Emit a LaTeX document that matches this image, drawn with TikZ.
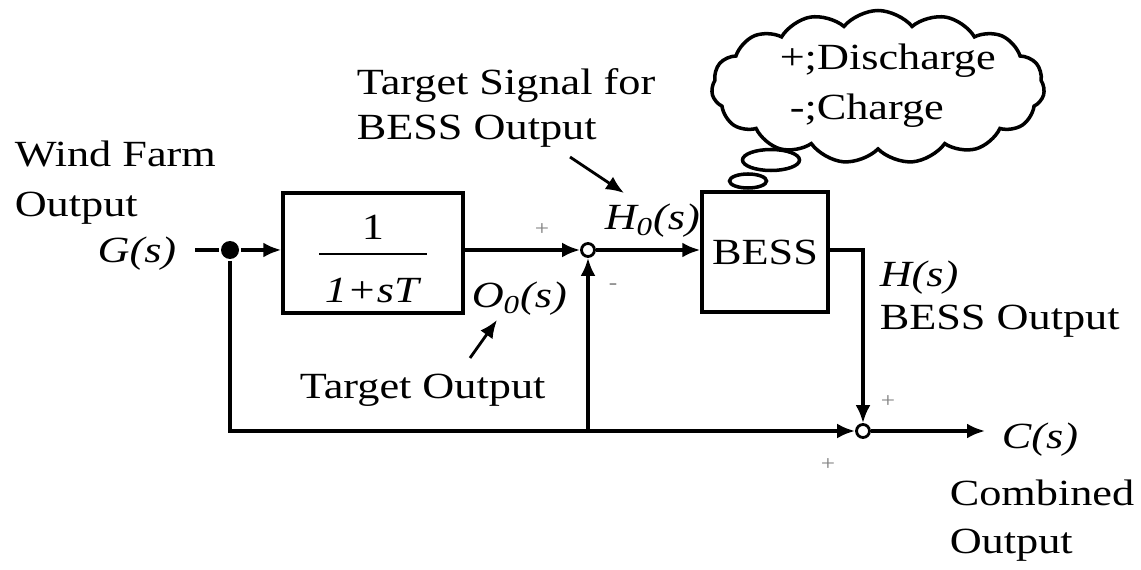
\documentclass[tikz,border=0pt]{standalone}
\usepackage{fontspec}
\setmainfont[FakeStretch=1.2]{Liberation Serif}
\usetikzlibrary{shapes.symbols,shapes.geometric,arrows.meta}
\begin{document}
\begin{tikzpicture}[x=0.02cm,y=-0.02cm, line width=2pt,
  every node/.style={font=\fontsize{21}{28}\selectfont, inner sep=0pt},
  blk/.style={draw, rectangle, line width=2pt},
  sumc/.style={draw, circle, minimum size=0.26cm, line width=1.6pt, fill=white},
  arr/.style={-{Latex[length=0.36cm,width=0.3cm]}},
  sgn/.style={font=\fontsize{12}{12}\selectfont, text=black!50},
  lbl/.style={anchor=base west},
]
\useasboundingbox (0,0) rectangle (1141,570);

% labels
\node[lbl] (wf1) at (13,167) {Wind Farm};
\node[lbl] (wf2) at (13,217) {Output};
\node[anchor=base east] (G) at (178,263) {\textit{G(s)}};
\coordinate (gs) at (195,250);

% blocks
\node[blk, minimum width=3.6cm, minimum height=2.4cm] (lp) at (373,253) {};
\node[anchor=base] (num) at (373,240) {1};
\node[anchor=base] (den) at (373,303) {\textit{1+sT}};
\draw[line width=1.6pt] (319,254) -- (427,254);

\node[circle, fill, minimum size=0.36cm] (dot) at (230,250) {};
\node[sumc] (s1) at (588,250) {};
\node[blk, minimum width=2.52cm, minimum height=2.4cm] (bess) at (765,252) {BESS};
\node[sumc] (s2) at (863,431) {};
\coordinate (cout) at (985,431);

% connectors
\draw (gs) -- (dot);
\draw[arr] (dot) -- (lp.west |- dot);
\draw[arr] (lp.east |- s1) -- (s1.west);
\draw[arr] (s1.east) -- (s1.east -| bess.west);
\draw[arr] (bess.east |- s1) -| (s2.north);
\draw[arr] (s2.east) -- (cout);
\draw[arr] (dot) |- (s2.west);
\draw[arr] (s1 |- s2) -- (s1.south);

% signs
\node[sgn] (p1) at (542,230) {+};
\node[sgn] (m1) at (613,287) {-};
\node[sgn] (p2) at (888,402) {+};
\node[sgn] (p3) at (828,465) {+};

% signal labels
\node[lbl] (h0) at (603,230) {\textit{H\textsubscript{0}(s)}};
\node[lbl] (o0) at (470,308) {\textit{O\textsubscript{0}(s)}};
\node[lbl] (to) at (298,398) {Target Output};
\coordinate (toa) at (470,358);
\coordinate (tob) at (497,320);
\draw[arr, line width=1.6pt] (toa) -- (tob);

\node[lbl] (ts1) at (355,95) {Target Signal for};
\node[lbl] (ts2) at (355,140) {BESS Output};
\coordinate (tsa) at (570,157);
\coordinate (tsb) at (624,193);
\draw[arr, line width=1.6pt] (tsa) -- (tsb);

\node[lbl] (hs) at (878,287) {\textit{H(s)}};
\node[lbl] (bo) at (878,330) {BESS Output};
\node[lbl] (cs) at (1000,448) {\textit{C(s)}};
\node[lbl] (co1) at (948,505) {Combined};
\node[lbl] (co2) at (948,553) {Output};

% cloud
\node[cloud, draw, cloud puffs=15, cloud puff arc=100, aspect=2.2,
      minimum width=6.66cm, minimum height=3.06cm, line width=2pt] (cloud) at (878,87) {};
\node[lbl] (cl1) at (778,70) {+;Discharge};
\node[lbl] (cl2) at (788,120) {-;Charge};
\node[ellipse, draw, fill=white, minimum width=1.14cm, minimum height=0.42cm, line width=2pt] (b1) at (771,160) {};
\node[ellipse, draw, fill=white, minimum width=0.74cm, minimum height=0.28cm, line width=2pt] (b2) at (748,181) {};
\end{tikzpicture}
\end{document}
